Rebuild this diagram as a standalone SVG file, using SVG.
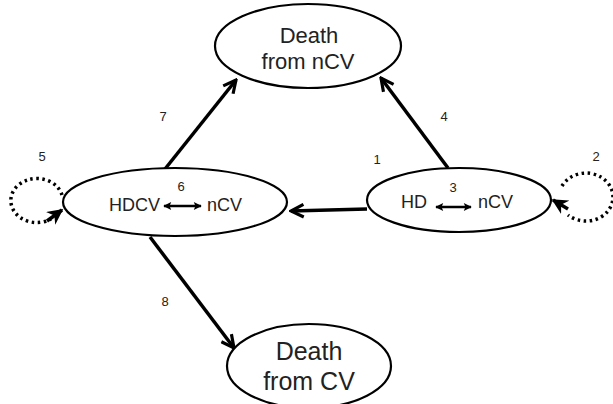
<svg xmlns="http://www.w3.org/2000/svg" width="613" height="404" viewBox="0 0 613 404">
<defs>
<style>
.n{fill:#fff;stroke:#000;stroke-width:2.2}
.t{font-family:"Liberation Sans",Arial,sans-serif;fill:#222}
.top{font-size:22px}
.bot{font-size:25px}
.mid{font-size:18px}
.lab{font-size:13px}
.e{fill:none;stroke:#000;stroke-width:3.5}
.d{fill:none;stroke:#000;stroke-width:3.5;stroke-dasharray:2.5 3.5}
.s{fill:none;stroke:#000;stroke-width:2.5}
</style>
<marker id="a" viewBox="0 0 10 10" refX="9" refY="5" markerWidth="4.5" markerHeight="4.5" orient="auto" markerUnits="strokeWidth">
<path d="M1,1 L9,5 L1,9" fill="none" stroke="#000" stroke-width="2"/>
</marker>
<marker id="b" viewBox="0 0 10 10" refX="9" refY="5" markerWidth="4.5" markerHeight="4.5" orient="auto" markerUnits="strokeWidth">
<path d="M0,0 L10,5 L0,10 L3,5 Z" fill="#000"/>
</marker>
<marker id="sm" viewBox="0 0 10 10" refX="9" refY="5" markerWidth="3.6" markerHeight="3.2" orient="auto-start-reverse" markerUnits="strokeWidth">
<path d="M0,0 L10,5 L0,10 L2,5 Z" fill="#000"/>
</marker>
</defs>
<g id="edges">
<line class="e" x1="165" y1="169" x2="236" y2="80" marker-end="url(#a)"/>
<line class="e" x1="448" y1="168" x2="381" y2="78" marker-end="url(#a)"/>
<line class="e" x1="367" y1="209" x2="291" y2="211" marker-end="url(#a)"/>
<line class="e" x1="150" y1="237" x2="234" y2="348" marker-end="url(#a)"/>
<path class="d" d="M62,195 A26,22 0 1 0 51,219" />
<path class="e" d="M47,221 L62,210" marker-end="url(#b)"/>
<path class="d" d="M562,186 A27,24 0 1 1 568,215" />
<path class="e" d="M568,209 L553,200" marker-end="url(#b)"/>
</g>
<g id="n_death_ncv">
<ellipse class="n" cx="308" cy="46" rx="93" ry="42"/>
<text class="t top" x="309" y="43" text-anchor="middle">Death</text>
<text class="t top" x="308" y="69" text-anchor="middle">from nCV</text>
</g>
<g id="n_hdcv">
<ellipse class="n" cx="175" cy="202" rx="112" ry="34"/>
<text class="t mid" x="109" y="211">HDCV</text>
<line class="s" x1="164" y1="206" x2="201" y2="206" marker-start="url(#sm)" marker-end="url(#sm)"/>
<text class="t mid" x="207" y="211">nCV</text>
<text class="t lab" x="181" y="191" text-anchor="middle">6</text>
</g>
<g id="n_hd">
<ellipse class="n" cx="459" cy="200" rx="92" ry="32"/>
<text class="t mid" x="401" y="208">HD</text>
<line class="s" x1="436" y1="207" x2="471" y2="207" marker-start="url(#sm)" marker-end="url(#sm)"/>
<text class="t mid" x="478" y="208">nCV</text>
<text class="t lab" x="453" y="192" text-anchor="middle">3</text>
</g>
<g id="n_death_cv">
<ellipse class="n" cx="309" cy="366" rx="82" ry="42"/>
<text class="t bot" x="309" y="360" text-anchor="middle">Death</text>
<text class="t bot" x="309" y="390" text-anchor="middle">from CV</text>
</g>
<g id="labels">
<text class="t lab" x="42" y="161" text-anchor="middle">5</text>
<text class="t lab" x="163" y="121" text-anchor="middle">7</text>
<text class="t lab" x="444" y="121" text-anchor="middle">4</text>
<text class="t lab" x="377" y="164" text-anchor="middle">1</text>
<text class="t lab" x="596" y="161" text-anchor="middle">2</text>
<text class="t lab" x="165" y="306" text-anchor="middle">8</text>
</g>
</svg>
